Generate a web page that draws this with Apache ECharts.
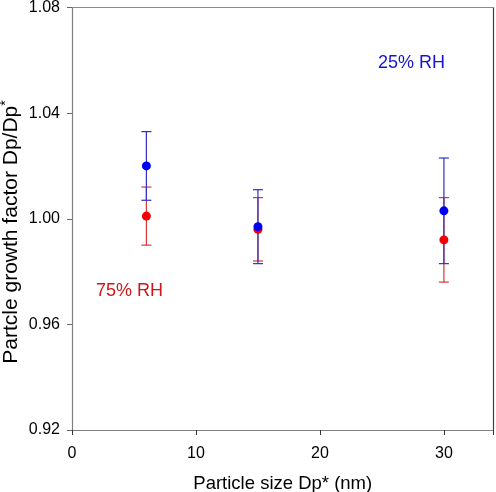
<!DOCTYPE html>
<html>
<head>
<meta charset="utf-8">
<script src="https://cdn.jsdelivr.net/npm/echarts@6/dist/echarts.min.js"></script>
<style>html,body{margin:0;padding:0;background:#fff}#c{width:496px;height:492px}</style>
</head>
<body>
<div id="c"></div>
<script>
const sizes = [6, 15, 30];
const rh25 = [1.020, 0.997, 1.003];
const rh25Hi = [1.033, 1.011, 1.023];
const rh25Lo = [1.007, 0.983, 0.983];
const rh75 = [1.001, 0.996, 0.992];
const rh75Hi = [1.012, 1.008, 1.008];
const rh75Lo = [0.990, 0.984, 0.976];
const yTicks = [0.92, 0.96, 1.00, 1.04, 1.08];

function errSeries(lo, hi, color, name) {
  return {
    type: 'custom', name: name, z: 2,
    data: sizes.map((x, i) => [x, lo[i], hi[i]]),
    renderItem: function (params, api) {
      const p1 = api.coord([api.value(0), api.value(1)]);
      const p2 = api.coord([api.value(0), api.value(2)]);
      const w = 5;
      const st = {stroke: color, lineWidth: 1.2};
      return {type: 'group', children: [
        {type: 'line', shape: {x1: p1[0], y1: p1[1], x2: p2[0], y2: p2[1]}, style: st},
        {type: 'line', shape: {x1: p1[0]-w, y1: p1[1], x2: p1[0]+w, y2: p1[1]}, style: st},
        {type: 'line', shape: {x1: p2[0]-w, y1: p2[1], x2: p2[0]+w, y2: p2[1]}, style: st}
      ]};
    }
  };
}

const chart = echarts.init(document.getElementById('c'));
chart.setOption({
  animation: false,
  grid: {left: 72, right: 2.5, top: 7.5, bottom: 62, containLabel: false, outerBoundsMode: 'none'},
  xAxis: [{
    type: 'value', min: 0, max: 34, interval: 10,
    name: 'Particle size Dp* (nm)', nameLocation: 'middle', nameGap: 44,
    nameTextStyle: {fontFamily: 'Liberation Sans, Arial', fontSize: 18.5, color: '#000'},
    axisLine: {show: true, onZero: false, lineStyle: {color: '#808080', width: 1.2}},
    axisTick: {show: true, inside: false, length: 5, lineStyle: {color: '#333'}},
    axisLabel: {margin: 16, fontFamily: 'Liberation Sans, Arial', fontSize: 16, color: '#000',
      formatter: v => (v % 10 === 0 && v <= 30) ? String(v) : ''},
    splitLine: {show: false}
  }, {
    type: 'value', position: 'top', min: 0, max: 34,
    axisLine: {show: true, onZero: false, lineStyle: {color: '#8a8a8a', width: 1.2}},
    axisTick: {show: false}, axisLabel: {show: false}, splitLine: {show: false}
  }],
  yAxis: [{
    type: 'value', min: 0.92, max: 1.08, interval: 0.04,
    axisLine: {show: true, onZero: false, lineStyle: {color: '#808080', width: 1.2}},
    axisTick: {show: true, inside: false, length: 5, lineStyle: {color: '#666'}},
    axisLabel: {margin: 12, fontFamily: 'Liberation Sans, Arial', fontSize: 16, color: '#000',
      formatter: v => v.toFixed(2)},
    splitLine: {show: false}
  }, {
    type: 'value', position: 'right', min: 0.92, max: 1.08,
    axisLine: {show: true, onZero: false, lineStyle: {color: '#404040', width: 1.2}},
    axisTick: {show: false}, axisLabel: {show: false}, splitLine: {show: false}
  }],
  series: [
    errSeries(rh75Lo, rh75Hi, '#d83838', '75% RH err'),
    {type: 'scatter', name: '75% RH', z: 3, symbolSize: 9, itemStyle: {color: '#f00000', opacity: 1},
      data: sizes.map((x, i) => [x, rh75[i]])},
    errSeries(rh25Lo, rh25Hi, '#3030c8', '25% RH err'),
    {type: 'scatter', name: '25% RH', z: 4, symbolSize: 9, itemStyle: {color: '#0000f0', opacity: 1},
      data: sizes.map((x, i) => [x, rh25[i]])}
  ],
  graphic: [
    {type: 'text', left: 378, top: 54, style: {text: '25% RH', fontFamily: 'Liberation Sans, Arial', fontSize: 18, fill: '#1414d0'}},
    {type: 'text', left: 96, top: 282, style: {text: '75% RH', fontFamily: 'Liberation Sans, Arial', fontSize: 18, fill: '#d01418'}},
    {type: 'text', x: 11, y: 232, rotation: Math.PI / 2,
      style: {text: 'Partcle growth factor Dp/Dp{sup|*}', fontFamily: 'Liberation Sans, Arial', fontSize: 21, fill: '#000',
        align: 'center', verticalAlign: 'middle',
        rich: {sup: {fontFamily: 'Liberation Sans, Arial', fontSize: 14, fill: '#000', verticalAlign: 'top', padding: [0, 0, 10, 0]}}}}
  ]
});
</script>
</body>
</html>
